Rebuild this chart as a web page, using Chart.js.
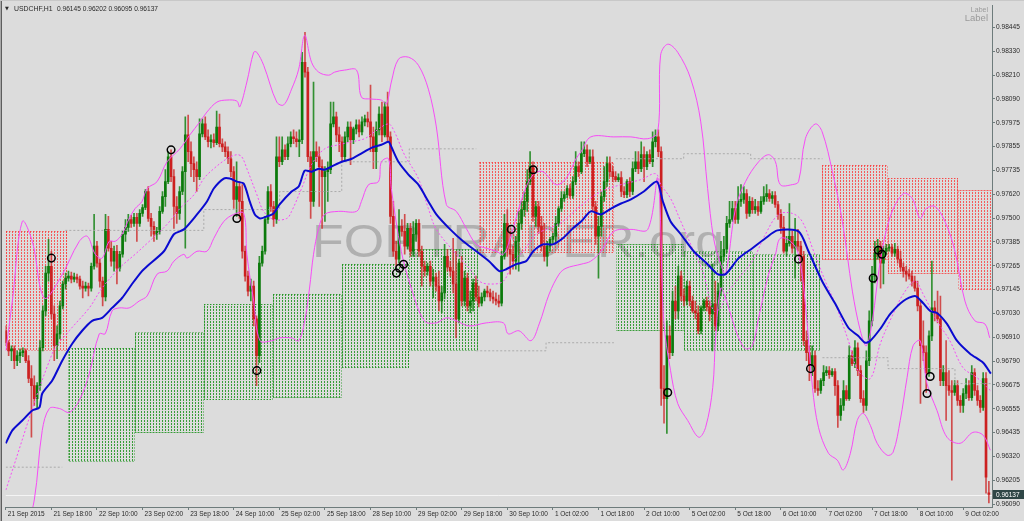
<!DOCTYPE html>
<html><head><meta charset="utf-8">
<script src="https://cdn.jsdelivr.net/npm/chart.js@4.4.0/dist/chart.umd.min.js"></script>
<style>
html,body{margin:0;padding:0;background:#dcdcdc;}
#wrap{position:relative;width:1024px;height:521px;overflow:hidden;background:#dcdcdc;}
canvas{position:absolute;left:0;top:0;}
</style></head>
<body><div id="wrap"><canvas id="c" width="1024" height="521"></canvas></div>
<script>
// ---- tick labels ----
const xTickIdx = [0,16,32,48,64,80,96,112,128,144,160,176,192,208,224,240,256,272,288,304,320,336];
const xTickLabels = ["21 Sep 2015","21 Sep 18:00","22 Sep 10:00","23 Sep 02:00","23 Sep 18:00","24 Sep 10:00","25 Sep 02:00","25 Sep 18:00","28 Sep 10:00","29 Sep 02:00","29 Sep 18:00","30 Sep 10:00","1 Oct 02:00","1 Oct 18:00","2 Oct 10:00","5 Oct 02:00","5 Oct 18:00","6 Oct 10:00","7 Oct 02:00","7 Oct 18:00","8 Oct 10:00","9 Oct 02:00"];
const yTickValues = [96090,96207.75,96325.5,96443.25,96561,96678.75,96796.5,96914.25,97032,97149.75,97267.5,97385.25,97503,97620.75,97738.5,97856.25,97974,98091.75,98209.5,98327.25,98445];
const yTickLabels = ["0.96090","0.96205","0.96320","0.96435","0.96555","0.96675","0.96790","0.96910","0.97030","0.97145","0.97265","0.97385","0.97500","0.97620","0.97735","0.97855","0.97975","0.98090","0.98210","0.98330","0.98445"];
const symbolTitle = "USDCHF,H1";
const lastOHLC = "0.96145 0.96202 0.96095 0.96137";
const bidPrice = 96137;
const bidLabel = "0.96137";

// ---- candles (price in 1e-5 units) ----
const opens = [96946,96887,96847,96857,96798,96823,96838,96847,96798,96710,
96675,96611,96675,96862,97044,97231,97265,97029,96872,96931,
97069,97177,97206,97216,97201,97211,97201,97167,97157,97167,
97157,97265,97364,97280,97191,97113,97447,97354,97290,97339,
97255,97324,97423,97457,97496,97477,97506,97477,97526,97555,
97634,97501,97462,97423,97437,97536,97609,97683,97806,97708,
97560,97526,97634,97732,97914,97831,97772,97742,97708,97919,
97968,97904,97880,97890,97875,97953,97870,97855,97831,97796,
97732,97595,97659,97585,97339,97216,97142,97167,97005,96823,
97280,97339,97496,97634,97560,97496,97806,97781,97840,97806,
97870,97904,97895,97880,97890,98273,98224,97806,97585,97831,
97806,97757,97708,97732,97742,97968,98003,97914,97880,97806,
97904,97953,97890,97944,97963,97929,97978,97993,97978,97904,
97831,97939,98017,97914,98052,97904,97511,97339,97300,97462,
97437,97364,97452,97339,97423,97477,97339,97265,97241,97265,
97191,97211,97167,97093,97133,97314,97260,97241,97177,97005,
97280,97093,97206,97069,97093,97182,97113,97083,97113,97142,
97133,97113,97103,97093,97083,97314,97477,97349,97324,97290,
97388,97477,97545,97585,97683,97757,97511,97560,97462,97364,
97314,97364,97398,97413,97477,97550,97600,97619,97649,97614,
97683,97757,97732,97821,97840,97781,97806,97560,97413,97462,
97609,97683,97772,97732,97708,97693,97703,97634,97619,97683,
97634,97747,97781,97747,97816,97757,97816,97781,97880,97904,
97831,96661,96611,96921,96838,97093,97044,97216,97118,97093,
97167,97093,97044,97034,96946,97059,97093,97064,97029,97079,
96970,97142,97314,97349,97477,97496,97550,97496,97585,97595,
97624,97526,97585,97545,97560,97536,97585,97609,97624,97600,
97614,97570,97521,97457,97339,97378,97413,97354,97388,97364,
97314,96897,96838,96774,96823,96661,96651,96700,96739,96749,
96729,96744,96675,96528,96577,96651,96611,96823,96783,96862,
96749,96611,96577,96798,96995,97216,97329,97364,97280,97339,
97354,97359,97329,97349,97300,97260,97241,97226,97216,97191,
97157,97069,96872,96838,96739,96921,97059,97034,97005,96700,
96739,96675,96651,96641,96675,96602,96577,96636,96675,96616,
96739,96651,96602,96567,96710,96145];
const highs = [96970,96897,96872,96872,96847,96857,96862,96857,96823,96774,
96724,96690,96897,97069,97265,97398,97339,97069,96970,97093,
97191,97231,97241,97236,97231,97226,97216,97191,97187,97182,
97280,97521,97388,97300,97211,97521,97511,97388,97364,97368,
97339,97437,97496,97521,97516,97526,97526,97545,97570,97644,
97659,97526,97486,97457,97560,97634,97742,97831,97840,97742,
97609,97659,97757,98003,98012,97880,97806,97781,97993,97993,
98003,97939,97914,97919,98032,98017,97895,97880,97855,97831,
97757,97781,97683,97668,97364,97241,97201,97191,97020,97314,
97364,97511,97659,97668,97585,97904,97904,97904,97865,97904,
97929,97939,97929,97939,98322,98421,98248,97831,98175,97880,
97855,97791,97757,97781,98076,98076,98027,97953,97904,97929,
97978,97978,97953,97988,97988,98003,98012,98027,98160,97953,
97978,98052,98076,98076,98126,97929,97585,97388,97545,97496,
97521,97477,97477,97486,97496,97496,97364,97290,97280,97290,
97250,97231,97241,97167,97373,97349,97290,97403,97339,97300,
97314,97241,97231,97142,97201,97216,97167,97133,97152,97167,
97152,97142,97133,97123,97339,97521,97545,97437,97364,97413,
97536,97585,97634,97742,97831,97781,97585,97585,97511,97477,
97388,97408,97427,97511,97560,97634,97634,97663,97668,97708,
97831,97781,97880,97880,97865,97840,97840,97585,97511,97634,
97757,97806,97806,97757,97732,97722,97732,97659,97693,97703,
97781,97831,97831,97880,97855,97831,97840,97929,97939,97939,
97855,96774,96995,96970,97142,97167,97265,97241,97152,97191,
97191,97118,97093,97069,97069,97103,97113,97093,97275,97191,
97182,97388,97413,97511,97585,97585,97585,97659,97668,97659,
97644,97609,97604,97595,97585,97609,97659,97668,97644,97634,
97634,97585,97545,97511,97413,97575,97437,97501,97447,97388,
97339,96946,96872,96872,96847,96700,96710,96774,96769,96769,
96759,96759,96700,96611,96700,96675,96872,96847,96897,96887,
96774,96651,96847,97044,97265,97388,97398,97388,97364,97373,
97373,97373,97378,97364,97339,97280,97265,97250,97241,97216,
97191,97093,96995,96872,96946,97290,97093,97142,97118,96774,
96897,96749,96700,96700,96700,96626,96661,96710,96700,96774,
96759,96675,96626,96739,96739,96202];
const lows = [96872,96823,96798,96759,96774,96788,96818,96788,96690,96420,
96577,96562,96651,96847,97020,97191,97005,96798,96808,96906,
97054,97152,97191,97182,97187,97182,97152,97108,97142,97118,
97142,97250,97260,97162,97069,97093,97339,97265,97241,97177,
97241,97310,97388,97437,97457,97462,97388,97462,97511,97545,
97486,97413,97388,97398,97423,97526,97560,97673,97683,97452,
97477,97496,97619,97354,97781,97708,97683,97634,97693,97904,
97890,97855,97850,97855,97865,97855,97831,97806,97772,97708,
97550,97511,97501,97305,97191,97118,97093,96970,96675,96788,
97265,97324,97477,97536,97462,97477,97757,97767,97791,97791,
97855,97870,97855,97806,97870,98199,97781,97501,97560,97781,
97560,97452,97486,97585,97722,97953,97880,97831,97781,97791,
97880,97767,97870,97919,97904,97914,97958,97953,97831,97747,
97747,97914,97880,97904,97880,97477,97314,97265,97280,97413,
97324,97349,97314,97314,97388,97314,97167,97216,97221,97167,
97108,97142,97044,97034,97103,97241,97216,97133,96911,96985,
97069,97069,97044,97034,97044,97093,97064,97069,97093,97113,
97093,97083,97074,97064,97069,97300,97314,97226,97250,97250,
97241,97447,97511,97536,97668,97486,97462,97427,97339,97290,
97265,97339,97378,97388,97462,97536,97585,97604,97600,97600,
97668,97708,97722,97806,97757,97772,97536,97373,97206,97413,
97585,97659,97708,97683,97683,97683,97609,97604,97604,97609,
97619,97732,97722,97732,97683,97742,97772,97757,97855,97806,
96577,96489,96439,96808,96823,97005,97005,97093,97069,97074,
97069,97034,97005,96931,96931,97044,97044,96995,96847,96946,
96946,97118,97290,97329,97457,97486,97477,97477,97560,97575,
97501,97511,97526,97526,97516,97526,97570,97585,97585,97575,
97555,97496,97427,97329,97314,97364,97329,97206,97339,97191,
96872,96798,96700,96724,96641,96626,96636,96675,96724,96710,
96720,96626,96469,96503,96552,96602,96602,96774,96764,96724,
96592,96543,96552,96774,96970,97182,97300,97157,97177,97324,
97339,97314,97314,97280,97241,97211,97191,97201,97167,97142,
97044,96587,96798,96641,96720,96897,96995,96985,96675,96675,
96503,96626,96208,96626,96577,96543,96543,96611,96602,96602,
96626,96577,96543,96552,96144,96095];
const closes = [96887,96847,96857,96798,96823,96838,96847,96798,96710,96675,
96611,96675,96862,97044,97231,97265,97029,96872,96931,97069,
97177,97206,97216,97201,97211,97201,97167,97157,97167,97157,
97265,97364,97280,97191,97113,97447,97354,97290,97339,97255,
97324,97423,97457,97496,97477,97506,97477,97526,97555,97634,
97501,97462,97423,97437,97536,97609,97683,97806,97708,97560,
97526,97634,97732,97914,97831,97772,97742,97708,97919,97968,
97904,97880,97890,97875,97953,97870,97855,97831,97796,97732,
97595,97659,97585,97339,97216,97142,97167,97005,96823,97280,
97339,97496,97634,97560,97496,97806,97781,97840,97806,97870,
97904,97895,97880,97890,98273,98224,97806,97585,97831,97806,
97757,97708,97732,97742,97968,98003,97914,97880,97806,97904,
97953,97890,97944,97963,97929,97978,97993,97978,97904,97831,
97939,98017,97914,98052,97904,97511,97339,97300,97462,97437,
97364,97452,97339,97423,97477,97339,97265,97241,97265,97191,
97211,97167,97093,97133,97314,97260,97241,97177,97005,97280,
97093,97206,97069,97093,97182,97113,97083,97113,97142,97133,
97113,97103,97093,97083,97314,97477,97349,97324,97290,97388,
97477,97545,97585,97683,97757,97511,97560,97462,97364,97314,
97364,97398,97413,97477,97550,97600,97619,97649,97614,97683,
97757,97732,97821,97840,97781,97806,97560,97413,97462,97609,
97683,97772,97732,97708,97693,97703,97634,97619,97683,97634,
97747,97781,97747,97816,97757,97816,97781,97880,97904,97831,
96661,96611,96921,96838,97093,97044,97216,97118,97093,97167,
97093,97044,97034,96946,97059,97093,97064,97029,97079,96970,
97142,97314,97349,97477,97496,97550,97496,97585,97595,97624,
97526,97585,97545,97560,97536,97585,97609,97624,97600,97614,
97570,97521,97457,97339,97378,97413,97354,97388,97364,97314,
96897,96838,96774,96823,96661,96651,96700,96739,96749,96729,
96744,96675,96528,96577,96651,96611,96823,96783,96862,96749,
96611,96577,96798,96995,97216,97329,97364,97280,97339,97354,
97359,97329,97349,97300,97260,97241,97226,97216,97191,97157,
97069,96872,96838,96739,96921,97059,97034,97005,96700,96739,
96675,96651,96641,96675,96602,96577,96636,96675,96616,96739,
96651,96602,96567,96710,96223,96137];

// ---- indicator lines: [bar index, price] ----
const maLine = [[0,96390],[2.3,96454],[5.8,96503],[9.3,96552],[11.8,96567],[12.8,96636],[16.3,96700],[19.8,96798],[23.3,96882],[26.8,96946],[30.3,96995],[33.8,97010],[37.3,97059],[40.8,97108],[44.3,97177],[47.8,97241],[49.6,97265],[55.5,97339],[59,97423],[62.5,97447],[67.1,97521],[70.6,97585],[73,97649],[76.5,97698],[78.6,97698],[81.1,97683],[83.5,97673],[85.6,97585],[87.4,97521],[89.2,97501],[91.6,97511],[94,97526],[96.1,97570],[100.3,97634],[102.8,97659],[104.9,97737],[107.3,97732],[109.8,97747],[111.9,97742],[114.3,97757],[117.9,97781],[121.4,97796],[125.9,97831],[128.3,97850],[131.8,97865],[134.3,97880],[135.3,97855],[137.8,97781],[141.3,97718],[144.8,97668],[148.3,97585],[151.1,97521],[155.6,97452],[160.5,97388],[165.1,97339],[169.6,97290],[173.2,97241],[175.6,97250],[179.1,97275],[182.6,97290],[185.1,97339],[188.5,97373],[192,97373],[195.5,97403],[199,97452],[201.9,97486],[205.3,97536],[208.9,97521],[212.4,97550],[215.9,97575],[219.4,97595],[223.9,97634],[228.5,97683],[230.6,97585],[233.3,97486],[236.9,97423],[241.4,97339],[246.3,97275],[249.8,97226],[252.6,97226],[257.2,97305],[262,97354],[266.6,97403],[270.8,97442],[278.2,97437],[281.7,97339],[286.5,97191],[291.1,97079],[295.7,96961],[299.1,96921],[301.6,96887],[303.4,96897],[306.9,96956],[310.4,97029],[315,97093],[319.1,97118],[321.9,97083],[324.4,97044],[326.8,97034],[330.3,96980],[333.8,96897],[338.4,96833],[343,96788],[345.7,96734]];
const bbUpper = [[0,96847],[2.3,97093],[5.8,97486],[9.3,97388],[13.5,97108],[19.1,97206],[25.8,97388],[28.6,97413],[31.4,97324],[33.8,97305],[36.3,97388],[38.4,97388],[40.8,97423],[43.3,97501],[45.4,97550],[47.8,97585],[49.6,97649],[53.1,97683],[56.6,97781],[61.1,97845],[64.6,97914],[68.1,97978],[70.6,98027],[74.1,98076],[77.6,98086],[81.1,98081],[82.1,98052],[84.6,98175],[87,98322],[88.1,98322],[90.5,98258],[95.1,98076],[97.5,98062],[100.3,98140],[102.8,98239],[104.9,98406],[107.3,98273],[109.8,98224],[113.3,98209],[115.4,98224],[118.9,98234],[123.1,98234],[124.8,98101],[128.3,98091],[131.8,98086],[133.6,98067],[135.3,98175],[137.8,98288],[141.3,98298],[144.8,98258],[148.3,98140],[151.1,97953],[154.6,97570],[158.1,97536],[161.6,97452],[165.1,97373],[168.6,97354],[172.1,97339],[174.6,97324],[176.7,97388],[181.6,97619],[185.1,97718],[188.5,97732],[193.1,97668],[196.6,97698],[200.1,97796],[201.9,97831],[205.3,97904],[213.4,97904],[219.4,97904],[225.3,97895],[228.8,97929],[229.8,98308],[232.3,98362],[235.8,98322],[240.4,98190],[243.9,97978],[246.3,97649],[248.4,97403],[250.9,97275],[252.6,97226],[256.1,97551],[259.6,97683],[264.2,97781],[267.7,97816],[270.1,97781],[271.8,97668],[276,97668],[278.2,97683],[280.6,97895],[284.1,97968],[286.5,97929],[290.1,97732],[293.6,97486],[297.1,97142],[299.9,96946],[302,96872],[304.1,96995],[306.9,97290],[310.4,97511],[315,97624],[318.1,97600],[320.9,97501],[323,97550],[326.1,97560],[329.6,97486],[333.1,97339],[336.6,97093],[340.1,96995],[343.6,96980],[345.3,96911]];
const bbLower = [[0,95913],[7.6,96012],[10,96110],[12.8,96454],[15.3,96562],[18.8,96562],[22.3,96543],[25.8,96602],[29.3,96734],[32.8,96931],[34.9,96931],[37.3,97044],[39.8,97059],[43.3,97059],[46.8,97093],[49.6,97118],[53.1,97226],[56.6,97241],[59,97290],[62.5,97324],[63.6,97305],[67.1,97339],[70.6,97339],[73,97403],[76.5,97486],[80,97521],[83.5,97526],[84.6,97324],[87,97093],[89.2,96897],[93.3,96897],[96.1,96911],[100.3,96911],[102.8,96897],[104.9,96995],[106.6,97157],[108,97324],[109.8,97452],[111.9,97521],[116.8,97536],[123.1,97536],[124.8,97585],[127.3,97668],[130.8,97683],[131.8,97781],[134.3,97796],[135.3,97649],[138.8,97339],[142.3,97157],[146.9,96995],[151.1,96985],[154.6,97010],[158.1,96995],[162.6,96970],[168.6,96985],[174.6,96985],[176.3,96931],[180.1,96946],[184.3,96897],[187.2,96980],[190.7,97128],[194.2,97226],[196.6,97255],[201.9,97275],[205.3,97290],[208.9,97339],[213.4,97437],[219.4,97447],[225.3,97447],[228.8,97698],[230.9,96995],[233.3,96749],[235.8,96587],[239.3,96503],[243.2,96420],[245.6,96469],[248.1,96666],[249.1,96911],[250.9,97157],[252.6,97108],[255.1,96995],[257.2,96911],[259.6,96857],[262,96872],[264.2,97010],[267.7,97226],[270.1,97324],[271.8,97403],[275.4,97388],[278.2,97324],[280.6,97079],[283.1,96666],[285.2,96469],[288.7,96341],[291.8,96307],[293.9,96258],[296.4,96341],[298.8,96503],[300.9,96538],[303.4,96479],[305.8,96390],[309.3,96331],[311.4,96346],[313.9,96503],[316.3,96715],[318.4,96872],[320.9,96897],[323.3,96685],[326.8,96552],[330.3,96420],[334.9,96390],[339.4,96444],[343,96430],[345.5,96356]];
const bbMiddle = [[0,96159],[16.3,96833],[22.3,96946],[29.3,97059],[33.8,97157],[39.8,97255],[45.4,97324],[49.6,97378],[56.6,97472],[61.1,97550],[66.1,97619],[69.5,97698],[73,97747],[77.6,97796],[81.1,97816],[82.8,97806],[84.6,97747],[88.1,97619],[90.5,97536],[94,97496],[98.6,97501],[100.3,97536],[103.8,97649],[107.3,97767],[111.9,97845],[116.8,97865],[121.4,97880],[125.9,97895],[129.4,97929],[134.3,97968],[136.4,97929],[139.9,97816],[144.8,97698],[148.3,97550],[151.1,97447],[158.1,97324],[162.6,97255],[166.2,97191],[169.6,97177],[174.6,97191],[178.1,97290],[181.6,97339],[186.1,97423],[190.7,97452],[195.5,97486],[201.9,97565],[208.9,97634],[215.9,97668],[222.9,97693],[228.1,97722],[229.9,97668],[233.3,97600],[236.9,97486],[241.4,97339],[244.9,97226],[248.4,97044],[250.9,97059],[252.6,97118],[257.2,97206],[262,97290],[266.6,97423],[271.2,97521],[276,97526],[279.5,97486],[283.1,97354],[287.6,97191],[291.1,97079],[295.7,96897],[299.1,96749],[303.4,96710],[306.9,96882],[311.4,97029],[315,97128],[319.1,97191],[321.9,97128],[326.8,96995],[331.3,96897],[335.9,96764],[340.8,96715],[345.5,96651]];
// faint stepped channel, runs of [bar index, price]
const stepRuns = [
 [[20.9,97442],[69.5,97442],[69.5,97545],[96.1,97545],[96.1,97634],[117.9,97634],[117.9,97781],[141.6,97781],[141.6,97845],[165.1,97845]],
 [[214.1,97796],[237.9,97796],[237.9,97821],[261.4,97821],[261.4,97796],[286.6,97796]],
 [[0,96272],[19.8,96272]],
 [[165.1,96847],[189.6,96847],[189.6,96887],[213.4,96887]],
 [[286.6,96813],[309.6,96813],[309.6,96759],[333.1,96759],[333.1,96685],[346.2,96685]]
];
// signal circles [bar index, price]
const signals = [[16,97305],[58,97840],[81.1,97501],[88.1,96749],[137.1,97231],[138.2,97255],[139.6,97275],[177.4,97447],[185.1,97742],[232.3,96641],[278.2,97300],[282.4,96759],[304.4,97206],[306.2,97344],[307.5,97324],[323.3,96636],[324.4,96720]];
// zones [from bar, to bar, top price, bottom price]
const supplyZones = [[-0.1,21.6,97437,96847],[166.2,213.4,97781,97329],[286.6,309.6,97767,97295],[309.6,334.2,97703,97226],[334.2,346.3,97644,97147]];
const demandZones = [[21.9,45.4,96862,96297],[45.4,69.5,96941,96439],[69.5,93.7,97079,96602],[93.7,117.9,97128,96616],[117.9,141.6,97275,96764],[141.6,165.8,97349,96847],[214.1,237.9,97373,96946],[237.9,262.1,97339,96847],[262.1,285.9,97324,96847]];

// ---- styling ----
const FONT = '"Liberation Sans", Arial, sans-serif';
const UP = '#0b7a0b', DN = '#cc2020';
const AXIS = '#6e7c7c';
const TXT = '#2a2a2a';
const BB = '#f64cf6';

const pts = arr => arr.map(p => ({x: p[0], y: p[1]}));
const candleColors = opens.map((o, i) => closes[i] >= o ? UP : DN);
const wickColors = opens.map((o, i) => closes[i] >= o ? 'rgba(20,130,20,0.85)' : 'rgba(205,40,40,0.8)');

function tile(color) {
  const c = document.createElement('canvas'); c.width = 3; c.height = 3;
  const g = c.getContext('2d'); g.fillStyle = color; g.fillRect(0, 0, 1, 2);
  return c;
}

const overlay = {
  id: 'overlay',
  beforeDatasetsDraw(chart) {
    const {ctx, chartArea: a, scales: {x, y}} = chart;
    ctx.save();
    ctx.beginPath(); ctx.rect(a.left, a.top, a.right - a.left, a.bottom - a.top); ctx.clip();
    // watermark
    ctx.save();
    ctx.font = '46px ' + FONT;
    ctx.fillStyle = 'rgba(115,115,115,0.42)';
    ctx.textBaseline = 'alphabetic';
    ctx.translate(312, 257); ctx.scale(1.13, 1);
    ctx.fillText('FORTRADER.org', 0, 0);
    ctx.restore();
    // zones
    const drawZones = (zones, dot) => {
      const pat = ctx.createPattern(tile(dot), 'repeat');
      zones.forEach(z => {
        const x0 = Math.round(x.getPixelForValue(z[0])), x1 = Math.round(x.getPixelForValue(z[1]));
        const y0 = Math.round(y.getPixelForValue(z[2])), y1 = Math.round(y.getPixelForValue(z[3]));
        ctx.fillStyle = pat; ctx.fillRect(x0, y0, x1 - x0, y1 - y0);
        ctx.setLineDash([1, 2]); ctx.strokeStyle = dot; ctx.lineWidth = 1;
        ctx.strokeRect(x0 + 0.5, y0 + 0.5, x1 - x0 - 1, y1 - y0 - 1);
        ctx.setLineDash([]);
      });
    };
    drawZones(supplyZones, 'rgba(255,30,30,0.68)');
    drawZones(demandZones, 'rgba(10,140,10,0.78)');
    // bid line
    const by = Math.round(y.getPixelForValue(bidPrice)) + 0.5;
    ctx.strokeStyle = '#f4f4f4'; ctx.lineWidth = 1;
    ctx.beginPath(); ctx.moveTo(a.left, by); ctx.lineTo(a.right, by); ctx.stroke();
    ctx.restore();
  },
  afterDraw(chart) {
    const {ctx, chartArea: a, scales: {y}} = chart;
    ctx.save();
    // price label
    const py = y.getPixelForValue(bidPrice);
    ctx.fillStyle = '#2f4646';
    ctx.fillRect(a.right + 1, Math.round(py - 4.5), 31, 9);
    ctx.fillStyle = '#ffffff';
    ctx.font = '6.5px ' + FONT; ctx.textBaseline = 'middle'; ctx.textAlign = 'left';
    ctx.fillText(bidLabel, a.right + 4, py + 0.5);
    // title
    ctx.fillStyle = TXT;
    ctx.font = '5px "DejaVu Sans", sans-serif';
    ctx.fillText('\u25BC', 5, 9);
    ctx.font = '6.9px ' + FONT;
    ctx.fillText(symbolTitle, 14, 9);
    ctx.fillText(lastOHLC, 57, 9, 101);
    // labels top right
    ctx.textAlign = 'right';
    ctx.fillStyle = '#9a9a9a';
    ctx.font = '7px ' + FONT; ctx.fillText('Label', 988, 10);
    ctx.font = '9.5px ' + FONT; ctx.fillText('Label', 988, 18.5);
    // window frame
    ctx.fillStyle = '#a9a9a9'; ctx.fillRect(0, 0, 1, 521);
    ctx.fillStyle = '#5e5e5e'; ctx.fillRect(1, 0, 1, 521);
    ctx.fillStyle = '#c8c8c8'; ctx.fillRect(0, 0, 1024, 1);
    ctx.restore();
  }
};

const datasets = [
  {type: 'bar', label: 'wick', data: opens.map((o, i) => ({x: i, y: [lows[i], highs[i]]})),
   backgroundColor: wickColors, barThickness: 1, grouped: false, borderWidth: 0, order: 10},
  {type: 'bar', label: 'body', data: opens.map((o, i) => ({x: i, y: [o, closes[i]]})),
   backgroundColor: candleColors, barThickness: 2, grouped: false, borderWidth: 0, minBarLength: 1, order: 9}
];
stepRuns.forEach(run => datasets.push({type: 'line', data: pts(run), borderColor: 'rgba(165,165,165,0.9)',
  borderWidth: 1, borderDash: [2, 2], pointRadius: 0, tension: 0, order: 8}));
datasets.push({type: 'line', data: pts(bbMiddle), borderColor: BB, borderWidth: 1, borderDash: [2, 2], pointRadius: 0, tension: 0.35, order: 6});
datasets.push({type: 'line', data: pts(bbUpper), borderColor: BB, borderWidth: 1, pointRadius: 0, tension: 0.35, order: 5});
datasets.push({type: 'line', data: pts(bbLower), borderColor: BB, borderWidth: 1, pointRadius: 0, tension: 0.35, order: 5});
datasets.push({type: 'line', data: pts(maLine), borderColor: '#0a0ad0', borderWidth: 2, pointRadius: 0, tension: 0.25, order: 2});
datasets.push({type: 'line', data: pts(signals), showLine: false, pointStyle: 'circle', pointRadius: 3.8,
  pointBorderColor: '#000', pointBorderWidth: 1.5, pointBackgroundColor: 'rgba(0,0,0,0)', order: 1});

Chart.defaults.font.family = FONT;
new Chart(document.getElementById('c'), {
  type: 'bar',
  data: {datasets},
  options: {
    responsive: false, animation: false, devicePixelRatio: 1, events: [],
    layout: {padding: {left: 3, top: 3, right: 0, bottom: 0}},
    plugins: {legend: {display: false}, tooltip: {enabled: false}},
    scales: {
      x: {
        type: 'linear', min: -0.1, max: 346.1, offset: false, position: 'bottom',
        afterBuildTicks: s => { s.ticks = xTickIdx.map(v => ({value: v})); },
        afterFit: s => { s.height = 14; },
        ticks: {callback: (v, i) => xTickLabels[i], align: 'start', labelOffset: 2, maxRotation: 0, minRotation: 0,
          autoSkip: false, padding: 0, color: TXT, font: {size: 6.5, family: FONT}},
        grid: {drawOnChartArea: false, drawTicks: true, tickLength: 3, color: AXIS, offset: false},
        border: {display: true, color: AXIS, width: 1}
      },
      y: {
        type: 'linear', position: 'right', min: 96075.3, max: 98553.2,
        afterBuildTicks: s => { s.ticks = yTickValues.map(v => ({value: v})); },
        afterFit: s => { s.width = 32; },
        ticks: {callback: (v, i) => yTickLabels[i], autoSkip: false, padding: 1, color: TXT, font: {size: 6.6, family: FONT}},
        grid: {drawOnChartArea: false, drawTicks: true, tickLength: 3, color: AXIS},
        border: {display: true, color: AXIS, width: 1}
      }
    }
  },
  plugins: [overlay]
});
</script></body></html>
